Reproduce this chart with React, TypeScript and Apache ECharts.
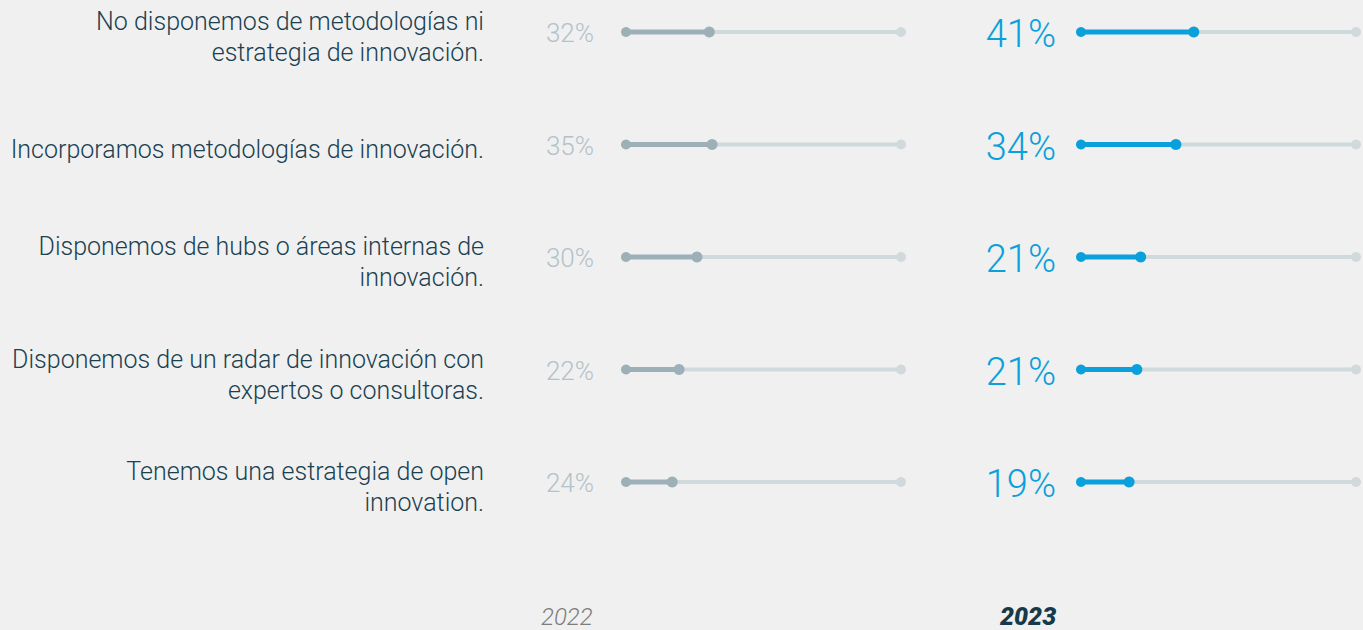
import React, { useEffect, useRef } from "react";
import * as echarts from "echarts";

const categories = [
  "No disponemos de metodologías ni\nestrategia de innovación.",
  "Incorporamos metodologías de innovación.",
  "Disponemos de hubs o áreas internas de\ninnovación.",
  "Disponemos de un radar de innovación con\nexpertos o consultoras.",
  "Tenemos una estrategia de open\ninnovation.",
];
const labels2022 = [32, 35, 30, 22, 24];
const labels2023 = [41, 34, 21, 21, 19];
const marks2022 = [30.3, 31.3, 25.8, 19.3, 16.8];
const marks2023 = [41.0, 34.5, 21.7, 20.3, 17.5];
const years = ["2022", "2023"];

const TRACK = "#d0d9dc";
const GRAY = "#9eb0b7";
const BLUE = "#0aa0dc";
const TEXT = "#1a4150";

function makeRender(color: string, labelColor: string, fontSize: number, gap: number, dy: number, withCat: boolean) {
  return (params: any, api: any) => {
    const idx = api.value(0);
    const v = api.value(1);
    const lab = api.value(2);
    const p0 = api.coord([0, idx]);
    const pv = api.coord([v, idx]);
    const p1 = api.coord([100, idx]);
    const children: any[] = [
      { type: "line", shape: { x1: p0[0], y1: p0[1], x2: p1[0], y2: p1[1] }, style: { stroke: TRACK, lineWidth: 4 } },
      { type: "circle", shape: { cx: p1[0], cy: p1[1], r: 5 }, style: { fill: TRACK } },
      { type: "line", shape: { x1: p0[0], y1: p0[1], x2: pv[0], y2: pv[1] }, style: { stroke: color, lineWidth: 5 } },
      { type: "circle", shape: { cx: p0[0], cy: p0[1], r: 5 }, style: { fill: color } },
      { type: "circle", shape: { cx: pv[0], cy: pv[1], r: 5.5 }, style: { fill: color } },
      {
        type: "text",
        style: {
          text: lab + "%",
          x: p0[0] - gap,
          y: p0[1] + dy,
          align: "right",
          verticalAlign: "middle",
          fontFamily: "Roboto",
          fontWeight: 300,
          fontSize,
          fill: labelColor,
        },
      },
    ];
    if (withCat) {
      children.push({
        type: "text",
        style: {
          text: categories[idx],
          x: p0[0] - 142,
          y: p0[1] + 5,
          align: "right",
          verticalAlign: "middle",
          fontFamily: "Roboto",
          fontWeight: 300,
          fontSize: 25,
          lineHeight: 31,
          fill: TEXT,
        },
      });
    }
    return { type: "group", children };
  };
}

export default function App() {
  const ref = useRef<HTMLDivElement>(null);
  useEffect(() => {
    document.body.style.margin = "0";
    const chart = echarts.init(ref.current!, null, { renderer: "svg" });
    const yBase = {
      type: "category",
      data: categories,
      inverse: true,
      boundaryGap: false,
      axisLine: { show: false },
      axisTick: { show: false },
      axisLabel: { show: false },
      splitLine: { show: false },
    };
    const xBase = { type: "value", min: 0, max: 100, show: false };
    chart.setOption({
      animation: false,
      backgroundColor: "#f0f0f0",
      grid: [
        { left: 626, width: 275, top: 32, height: 450, outerBoundsMode: "none", containLabel: false },
        { left: 1081, width: 275, top: 32, height: 450, outerBoundsMode: "none", containLabel: false },
      ],
      xAxis: [
        { ...xBase, gridIndex: 0 },
        { ...xBase, gridIndex: 1 },
      ],
      yAxis: [
        { ...yBase, gridIndex: 0 },
        { ...yBase, gridIndex: 1 },
      ],
      series: [
        {
          type: "custom",
          xAxisIndex: 0,
          yAxisIndex: 0,
          renderItem: makeRender(GRAY, "#b3c2c8", 26, 32, 1, true),
          encode: { x: 1, y: 0 },
          data: categories.map((_, i) => [i, marks2022[i], labels2022[i]]),
        },
        {
          type: "custom",
          xAxisIndex: 1,
          yAxisIndex: 1,
          renderItem: makeRender(BLUE, BLUE, 38, 25, 2, false),
          encode: { x: 1, y: 0 },
          data: categories.map((_, i) => [i, marks2023[i], labels2023[i]]),
        },
      ],
      graphic: [
        {
          type: "text",
          left: 541,
          top: 605,
          style: { text: years[0], fontFamily: "Roboto", fontStyle: "italic", fontWeight: 300, fontSize: 24, fill: "#7d7d7d" },
        },
        {
          type: "text",
          left: 1000,
          top: 604,
          style: { text: years[1], fontFamily: "Roboto", fontStyle: "italic", fontWeight: 900, fontSize: 25, fill: "#163a4a" },
        },
      ],
    });
    return () => chart.dispose();
  }, []);
  return <div ref={ref} style={{ width: 1363, height: 630 }} />;
}
